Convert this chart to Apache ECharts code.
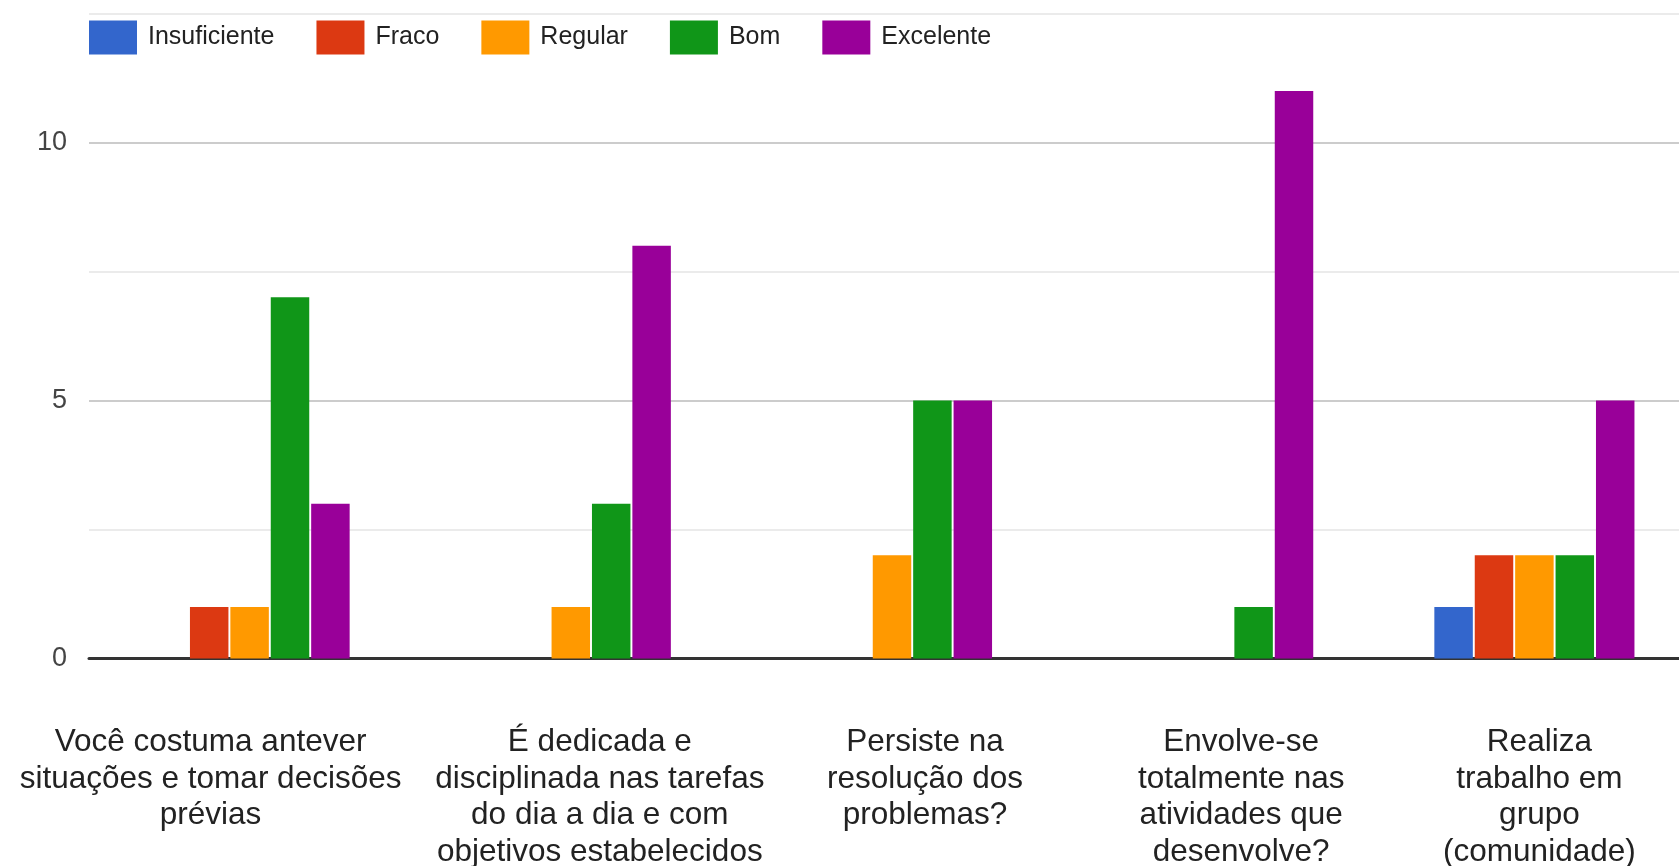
<!DOCTYPE html>
<html>
<head>
<meta charset="utf-8">
<script src="https://cdn.jsdelivr.net/npm/echarts@6/dist/echarts.min.js"></script>
<style>
  html, body { margin: 0; padding: 0; background: #fff; }
  #CajaGrafico { width: 1679px; height: 866px; }
</style>
</head>
<body>
<div id="CajaGrafico"></div>
<script>
// perguntas (eixo x), já quebradas em linhas
var categorias = [
  'Você costuma antever\nsituações e tomar decisões\nprévias',
  'É dedicada e\ndisciplinada nas tarefas\ndo dia a dia e com\nobjetivos estabelecidos',
  'Persiste na\nresolução dos\nproblemas?',
  'Envolve-se\ntotalmente nas\natividades que\ndesenvolve?',
  'Realiza\ntrabalho em\ngrupo\n(comunidade)'
];
var series_nomes = ['Insuficiente', 'Fraco', 'Regular', 'Bom', 'Excelente'];
var insuficiente = [0, 0, 0, 0, 1];
var fraco        = [1, 0, 0, 0, 2];
var regular      = [1, 1, 2, 0, 2];
var bom          = [7, 3, 5, 1, 2];
var excelente    = [3, 8, 5, 11, 5];
var ticks_y = [0, 5, 10];

document.addEventListener('DOMContentLoaded', function () {
    var ChartDOM = document.getElementById('CajaGrafico');
    var myChart = echarts.init(ChartDOM);

    var cores = ['#3366cc', '#dc3912', '#ff9900', '#109618', '#990099'];
    var valores = [insuficiente, fraco, regular, bom, excelente];
    // deslocamento horizontal dos rótulos do eixo x
    var desloc = [-39, 29, 33, 28, 5];

    var rich = {};
    desloc.forEach(function (d, i) {
        rich['c' + i] = {
            fontFamily: "'Liberation Sans', Arial, sans-serif",
            fontSize: 31.5,
            lineHeight: 36.5,
            color: '#222',
            padding: d >= 0 ? [0, 0, 0, 2 * d] : [0, -2 * d, 0, 0]
        };
    });

    var series = series_nomes.map(function (nome, i) {
        return {
            name: nome,
            type: 'bar',
            data: valores[i],
            barGap: '5%',
            barCategoryGap: '37.7%',
            itemStyle: { color: cores[i] }
        };
    });

    var option = {
        animation: false,
        color: cores,
        legend: {
            left: 89,
            top: 20.5,
            padding: 0,
            icon: 'rect',
            itemWidth: 48,
            itemHeight: 34,
            itemGap: 42,
            textStyle: {
                fontFamily: "'Liberation Sans', Arial, sans-serif",
                fontSize: 25,
                color: '#222',
                padding: [0, 0, 0, 6]
            },
            data: series_nomes
        },
        grid: {
            left: 89,
            width: 1606,
            top: 13.5,
            bottom: 207.5,
            containLabel: false,
            outerBoundsMode: 'none'
        },
        xAxis: {
            type: 'category',
            data: categorias,
            axisTick: { show: false },
            axisLine: { lineStyle: { color: '#333', width: 3 } },
            axisLabel: {
                interval: 0,
                margin: 66,
                formatter: function (v, i) {
                    return v.split('\n').map(function (l) {
                        return '{c' + i + '|' + l + '}';
                    }).join('\n');
                },
                rich: rich
            }
        },
        yAxis: {
            type: 'value',
            min: 0,
            max: 12.5,
            interval: 2.5,
            axisLine: { show: false },
            axisTick: { show: false },
            axisLabel: {
                margin: 22,
                fontFamily: "'Liberation Sans', Arial, sans-serif",
                fontSize: 27,
                color: '#444',
                formatter: function (v) {
                    return ticks_y.indexOf(v) >= 0 ? String(v) : '';
                }
            },
            splitLine: {
                lineStyle: {
                    color: ['#cccccc', '#ebebeb'],
                    width: 2
                }
            }
        },
        series: series
    };
    myChart.setOption(option);
    window.addEventListener('resize', function () {
        myChart.resize();
    });
});
</script>
</body>
</html>
